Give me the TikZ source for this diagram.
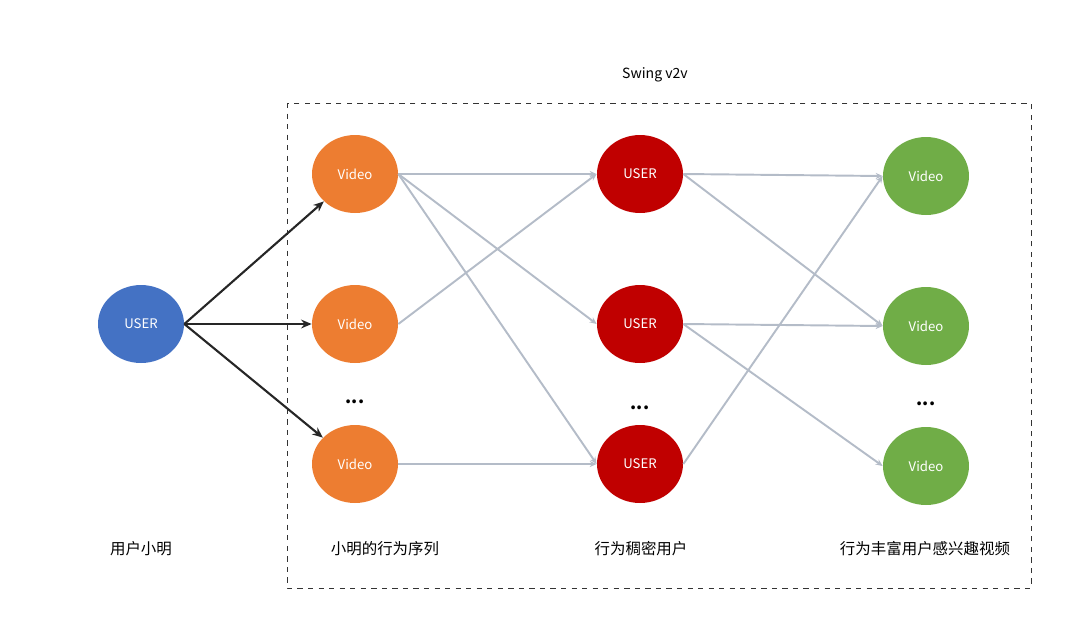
\documentclass[tikz,border=0pt]{standalone}
\usepackage{fontspec}
\setmainfont{Noto Sans CJK SC}
\usepackage{tikz}
\usetikzlibrary{shapes.geometric,arrows.meta}

\definecolor{userblue}{HTML}{4472C4}
\definecolor{vidorange}{HTML}{ED7D31}
\definecolor{userred}{HTML}{C00000}
\definecolor{vidgreen}{HTML}{70AD47}
\definecolor{edgegrey}{HTML}{B4BCC8}

\begin{document}
\begin{tikzpicture}
            [x=0.02cm,y=-0.02cm,every node/.style={font=\fontsize{8pt}{10pt}\selectfont},
             dot/.style={ellipse,minimum width=1.72cm,minimum height=1.56cm,inner sep=0pt,text=white,font=\fontsize{7.5pt}{9pt}\selectfont},
             lbl/.style={font=\fontsize{8.8pt}{10pt}\selectfont},
             blk/.style={-{Stealth[length=6pt,width=5pt]},line width=1.2pt,black!85},
             gry/.style={-{Stealth[length=4pt,width=3.5pt]},line width=1.1pt,edgegrey}]
            \useasboundingbox (0,0) rectangle (1080,630);
            \draw[dashed,black!80] (287,103) rectangle (1031,588);
            \node (t) at (655,75) {Swing v2v};
            \node[dot,fill=userblue] (u) at (141,324) {USER};
            \node[dot,fill=vidorange] (v1) at (355,174) {Video};
            \node[dot,fill=vidorange] (v2) at (355,324) {Video};
            \node[dot,fill=vidorange] (v3) at (355,464) {Video};
            \node[dot,fill=userred] (r1) at (640,174) {USER};
            \node[dot,fill=userred] (r2) at (640,324) {USER};
            \node[dot,fill=userred] (r3) at (640,464) {USER};
            \node[dot,fill=vidgreen] (g1) at (926,176) {Video};
            \node[dot,fill=vidgreen] (g2) at (926,326) {Video};
            \node[dot,fill=vidgreen] (g3) at (926,466) {Video};
            \node[font=\bfseries] (d1) at (355,402) {...};
            \node[font=\bfseries] (d2) at (640,408) {...};
            \node[font=\bfseries] (d3) at (926,404) {...};
            % labels
            \node[lbl] (l1) at (141,549) {用户小明};
            \node[lbl] (l2) at (385,549) {小明的行为序列};
            \node[lbl] (l3) at (641,549) {行为稠密用户};
            \node[lbl] (l4) at (925,549) {行为丰富用户感兴趣视频};
            % user to videos
            \draw[blk] (u.east) -- (v1);
            \draw[blk] (u.east) -- (v2);
            \draw[blk] (u.east) -- (v3);
            % videos to users
            \draw[gry] (v1.east) -- (r1.west);
            \draw[gry] (v1.east) -- (r2.west);
            \draw[gry] (v1.east) -- (r3.west);
            \draw[gry] (v2.east) -- (r1.west);
            \draw[gry] (v3.east) -- (r3.west);
            % users to videos
            \draw[gry] (r1.east) -- (g1.west);
            \draw[gry] (r1.east) -- (g2.west);
            \draw[gry] (r2.east) -- (g2.west);
            \draw[gry] (r2.east) -- (g3.west);
            \draw[gry] (r3.east) -- (g1.west);
        \end{tikzpicture}
\end{document}
